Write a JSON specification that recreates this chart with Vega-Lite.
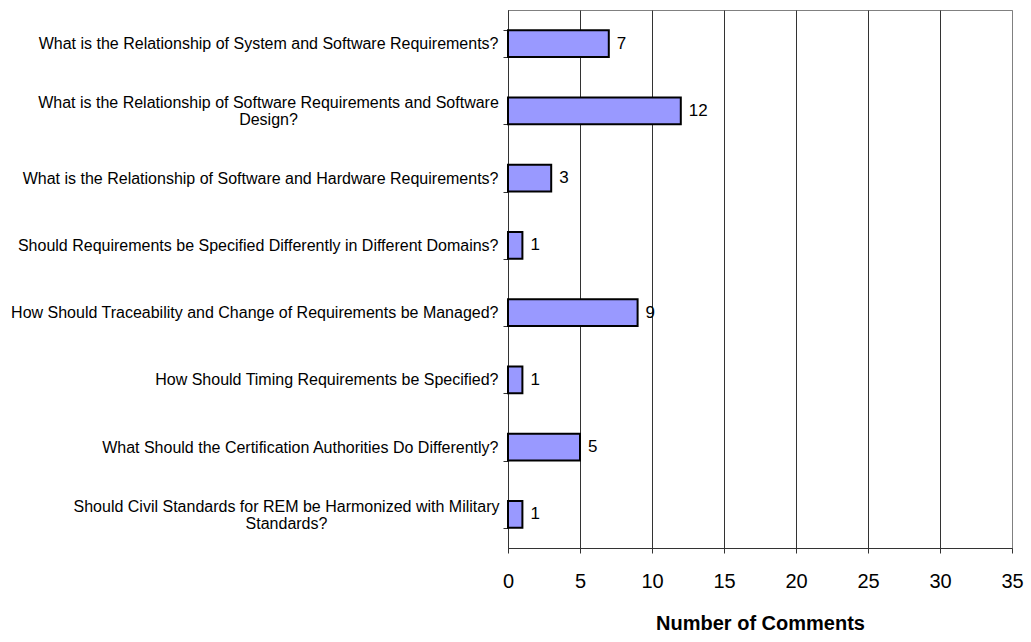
{
  "$schema": "https://vega.github.io/schema/vega-lite/v6.json",
  "width": 504,
  "height": 538,
  "autosize": {"type": "none"},
  "padding": {"left": 508, "top": 10, "right": 19, "bottom": 94},
  "background": "white",
  "config": {
    "font": "Liberation Sans",
    "view": {"stroke": "#808080", "strokeWidth": 1}
  },
  "data": {
    "values": [
      {"question": "What is the Relationship of System and Software Requirements?", "comments": 7},
      {"question": "What is the Relationship of Software Requirements and Software|Design?", "comments": 12},
      {"question": "What is the Relationship of Software and Hardware Requirements?", "comments": 3},
      {"question": "Should Requirements be Specified Differently in Different Domains?", "comments": 1},
      {"question": "How Should Traceability and Change of Requirements be Managed?", "comments": 9},
      {"question": "How Should Timing Requirements be Specified?", "comments": 1},
      {"question": "What Should the Certification Authorities Do Differently?", "comments": 5},
      {"question": "Should Civil Standards for REM be Harmonized with Military|Standards?", "comments": 1}
    ]
  },
  "encoding": {
    "y": {
      "field": "question",
      "type": "nominal",
      "sort": null,
      "scale": {"paddingInner": 0.6, "paddingOuter": 0.3},
      "axis": {
        "title": null,
        "labelExpr": "split(datum.label, '|')",
        "labelFontSize": 16,
        "labelColor": "black",
        "labelLineHeight": 17,
        "labelLimit": 520,
        "labelAlign": {"condition": {"test": "indexof(datum.label, '|') >= 0", "value": "center"}, "value": "right"},
        "labelPadding": {
          "condition": [
            {"test": "indexof(datum.label, 'Design?') >= 0", "value": 235},
            {"test": "indexof(datum.label, 'Standards?') >= 0", "value": 217}
          ],
          "value": 5
        },
        "labelOffset": {"condition": {"test": "indexof(datum.label, '|') >= 0", "value": -8}, "value": 0},
        "tickBand": "extent",
        "tickSize": 5,
        "tickColor": "#333333",
        "domainColor": "#333333",
        "domainWidth": 1
      }
    },
    "x": {
      "field": "comments",
      "type": "quantitative",
      "scale": {"domain": [0, 35], "nice": false},
      "axis": {
        "title": "Number of Comments",
        "titleFontSize": 20,
        "titleFontWeight": "bold",
        "titleColor": "black",
        "titlePadding": 22,
        "values": [0, 5, 10, 15, 20, 25, 30, 35],
        "labelFontSize": 20,
        "labelColor": "black",
        "labelPadding": 18,
        "labelFlush": false,
        "tickSize": 5,
        "tickColor": "#333333",
        "domainColor": "#333333",
        "grid": true,
        "gridColor": {"condition": {"test": "datum.value === 35", "value": "#808080"}, "value": "#333333"},
        "gridWidth": 1,
        "gridOpacity": 1
      }
    }
  },
  "layer": [
    {
      "mark": {"type": "bar", "color": "#9999FF", "stroke": "black", "strokeWidth": 2}
    },
    {
      "mark": {"type": "text", "align": "left", "baseline": "middle", "dx": 8, "fontSize": 17, "color": "black"},
      "encoding": {"text": {"field": "comments", "type": "quantitative"}}
    }
  ]
}
